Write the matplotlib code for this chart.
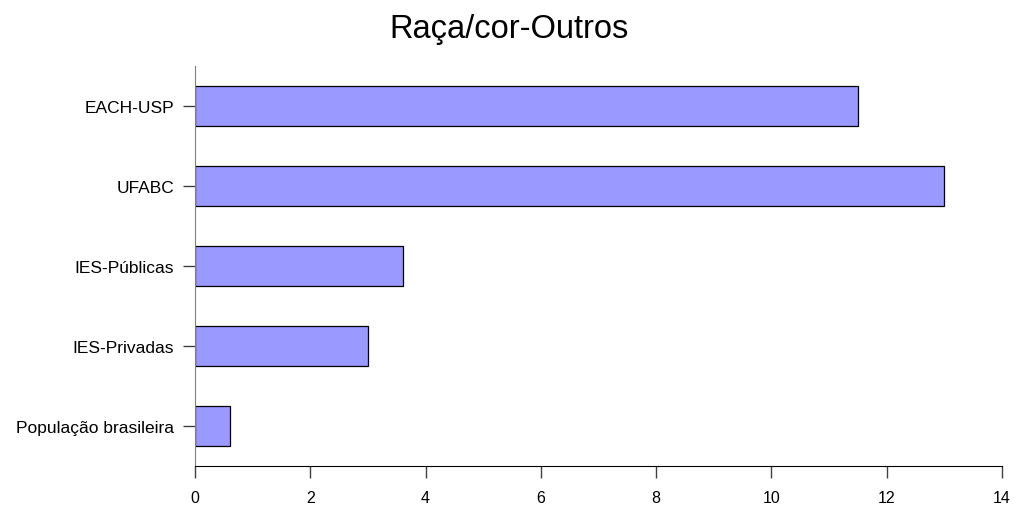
import matplotlib.pyplot as plt

plt.rcParams['font.family'] = ['Liberation Sans', 'DejaVu Sans']

# categories from bottom to top
categorias = ['População brasileira', 'IES-Privadas', 'IES-Públicas', 'UFABC', 'EACH-USP']
valores = [0.6, 3.0, 3.6, 13.0, 11.5]
xticks = [0, 2, 4, 6, 8, 10, 12, 14]

fig = plt.figure(figsize=(10.14, 5.06), dpi=100)
ax = fig.add_axes([0.1923, 0.0771, 0.7959, 0.7905])

ax.barh(range(len(categorias)), valores, height=0.5, color='#9999FF',
        edgecolor='black', linewidth=0.9)

ax.set_xlim(0, 14)
ax.set_ylim(-0.5, len(categorias) - 0.5)
ax.set_xticks(xticks)
ax.set_xticklabels([str(t) for t in xticks])
ax.set_yticks(range(len(categorias)))
ax.set_yticklabels(categorias)

for s in ['top', 'right']:
    ax.spines[s].set_visible(False)
ax.spines['left'].set_color('#808080')
ax.spines['bottom'].set_color('black')
ax.tick_params(axis='x', length=8.6, width=1, color='#404040', pad=9, labelsize=11.5)
ax.tick_params(axis='y', length=8.6, width=1, color='#404040', pad=6.5, labelsize=12.5)

fig.text(0.5015, 0.9255, 'Raça/cor-Outros', ha='center', va='baseline', fontsize=23.5)

fig.savefig('out.png', dpi=100)
